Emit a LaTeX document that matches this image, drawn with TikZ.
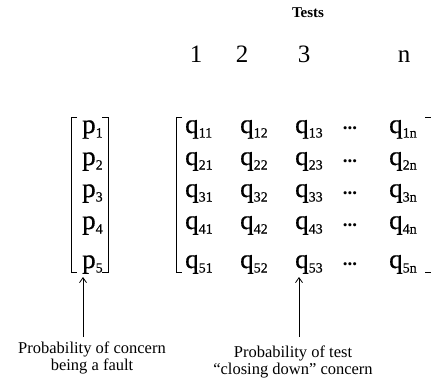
\documentclass[tikz,border=0pt]{standalone}
\usepackage{fontspec}
\setmainfont{Liberation Serif}
\newfontfamily\heavyserif[FakeBold=0.6]{Liberation Serif}
\usetikzlibrary{arrows.meta}

% entry with a lowered subscript
\newcommand\ent[2]{#1\raisebox{-4.5pt}{\fontsize{14}{14}\selectfont #2}}

\begin{document}
\begin{tikzpicture}[x=1pt,y=-1pt,
  cell/.style={inner sep=0pt,anchor=base west,font=\heavyserif\fontsize{27}{27}\selectfont},
  head/.style={inner sep=0pt,anchor=base,font=\fontsize{25}{25}\selectfont},
  dotsbox/.style={inner sep=0pt,anchor=base,font=\fontsize{19}{19}\selectfont\bfseries},
  note/.style={inner sep=0pt,align=center,font=\fontsize{16.5}{17}\selectfont},
  brk/.style={line width=0.9pt},
  pointer/.style={line width=0.8pt,-{Straight Barb[length=5pt,width=7pt]}}]
\useasboundingbox (0,0) rectangle (431,385);

% title and column numbers
\node[inner sep=0pt,anchor=base,font=\fontsize{15}{15}\selectfont\bfseries] (tests) at (308,18) {Tests};
\node[head] (h1) at (196,63) {1};
\node[head] (h2) at (242,63) {2};
\node[head] (h3) at (304,63) {3};
\node[head] (hn) at (404,63) {n};

% vector of concerns
\foreach \r/\y in {1/133,2/165,3/197,4/229,5/268}{
  \node[cell] (p\r) at (82,\y) {\ent{p}{\r}};
}
\draw[brk] (77,117) -- (71,117) -- (71,272) -- (77,272);
\draw[brk] (102,117) -- (108,117) -- (108,272) -- (102,272);

% matrix of tests
\foreach \r/\y in {1/133,2/165,3/197,4/229,5/268}{
  \node[cell] (q\r1) at (185,\y) {\ent{q}{\r1}};
  \node[cell] (q\r2) at (240,\y) {\ent{q}{\r2}};
  \node[cell] (q\r3) at (295,\y) {\ent{q}{\r3}};
  \node[dotsbox] (d\r) at (350,\y-3) {...};
  \node[cell] (q\r n) at (389,\y) {\ent{q}{\r n}};
}
\draw[brk] (182,117) -- (176,117) -- (176,272) -- (182,272);
\draw[brk] (425,117) -- (432,117) -- (432,272) -- (425,272);

% annotations
\node[note,anchor=base] (lab1) at (92,370) {Probability of concern\\being a fault};
\node[note,anchor=base] (lab2) at (293,374) {Probability of test\\``closing down'' concern};
\draw[pointer] (83,337) -- (83,277);
\draw[pointer] (299,337) -- (299,277);
\end{tikzpicture}
\end{document}
